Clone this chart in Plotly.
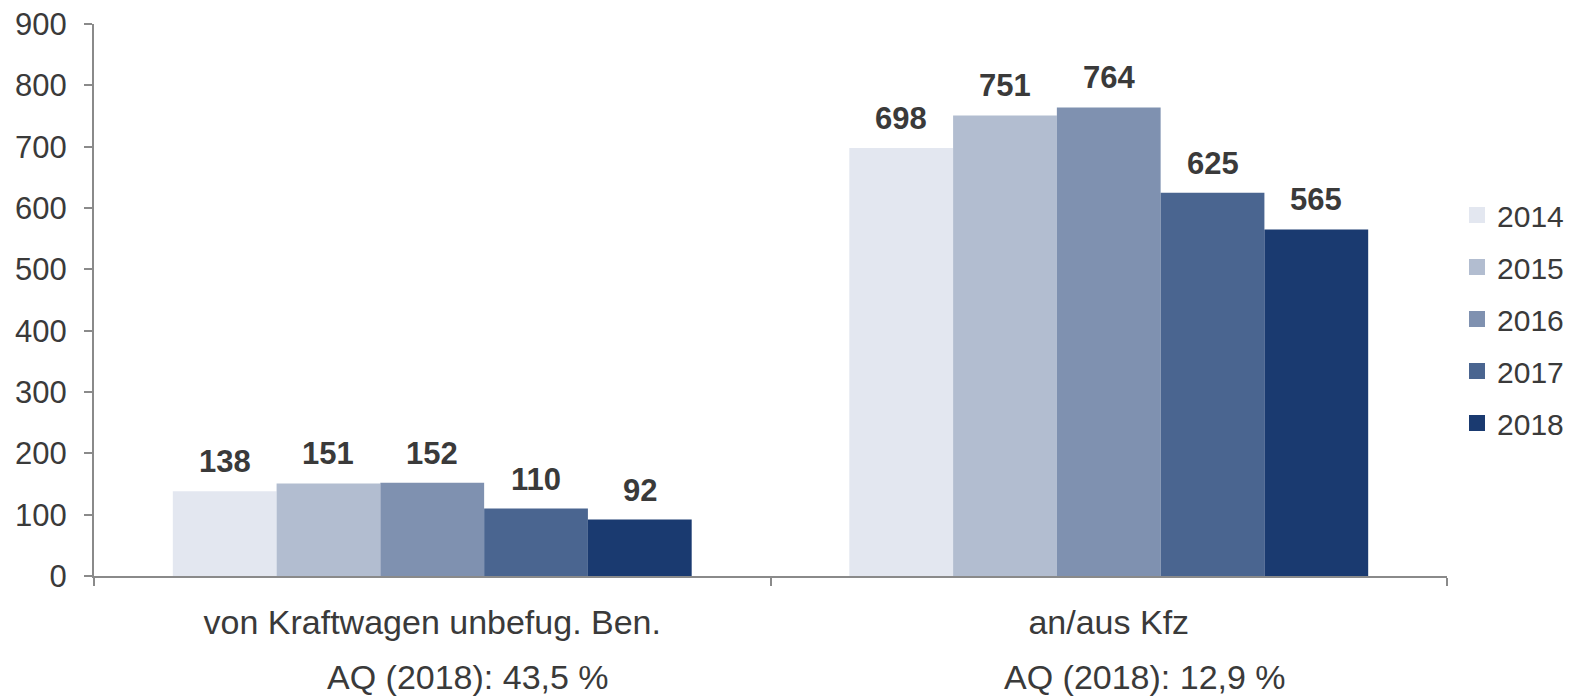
import plotly.graph_objects as go

# Data
categories = ['von Kraftwagen unbefug. Ben.', 'an/aus Kfz']
aq_labels = ['AQ (2018): 43,5 %', 'AQ (2018): 12,9 %']
years = ['2014', '2015', '2016', '2017', '2018']
values = {
    '2014': [138, 698],
    '2015': [151, 751],
    '2016': [152, 764],
    '2017': [110, 625],
    '2018': [92, 565],
}
y_ticks = [0, 100, 200, 300, 400, 500, 600, 700, 800, 900]

COLORS = ['#E3E7F0', '#B2BDD0', '#7F91B0', '#4A6590', '#1A3A70']
TEXT = '#3a3a3a'
AXIS = '#8a8a8a'
FONT = 'Liberation Sans, Arial, sans-serif'
BARGAP = 0.233

fig = go.Figure()

for i, year in enumerate(years):
    fig.add_trace(
        go.Bar(
            x=categories,
            y=values[year],
            name=year,
            showlegend=False,
            marker_color=COLORS[i],
            marker_line_width=0,
        )
    )

# legend entries with larger square swatches
for i, year in enumerate(years):
    fig.add_trace(
        go.Scatter(
            x=[None], y=[None],
            mode='markers',
            name=year,
            legendgroup=year,
            marker=dict(symbol='square', size=16, color=COLORS[i]),
        )
    )

# value labels above the bars
w = (1 - BARGAP) / len(years)
annotations = []
for i, year in enumerate(years):
    for c, v in enumerate(values[year]):
        annotations.append(dict(
            x=c + (i - (len(years) - 1) / 2) * w, y=v,
            xref='x', yref='y',
            text=f'<b>{v}</b>', showarrow=False,
            yanchor='bottom', yshift=10,
            font=dict(size=31, color=TEXT, family=FONT),
        ))

# second line under the category names
for c, txt in enumerate(aq_labels):
    annotations.append(dict(
        x=c, y=-101 / 552, xref='x', yref='paper',
        text=txt, showarrow=False, xshift=36,
        yanchor='middle',
        font=dict(size=34, color=TEXT, family=FONT),
    ))

# the page body adds an 8px offset, so margins are reduced by 8 on left/top
fig.update_layout(
    width=1573,
    height=697,
    barmode='group',
    bargap=BARGAP,
    bargroupgap=0,
    paper_bgcolor='white',
    plot_bgcolor='white',
    font=dict(family=FONT, color=TEXT, size=30),
    margin=dict(l=86, r=134, t=16, b=129, autoexpand=False),
    annotations=annotations,
    legend=dict(
        x=1.0074, y=0.4656, xanchor='left', yanchor='middle',
        font=dict(size=30, color=TEXT),
        tracegroupgap=10,
        traceorder='grouped',
        itemsizing='trace',
        itemclick=False,
    ),
)

fig.update_yaxes(
    range=[0, 900],
    tickvals=y_ticks,
    showgrid=False,
    showline=True, linecolor=AXIS, linewidth=2,
    ticks='outside', ticklen=8, tickwidth=2, tickcolor=AXIS,
    ticklabelstandoff=11,
    ticklabeloverflow='allow',
    tickfont=dict(size=31, color=TEXT),
    zeroline=False,
    automargin=False,
)
fig.update_xaxes(
    type='category',
    range=[-0.5, 1.5],
    tickson='boundaries',
    showgrid=False,
    showline=True, linecolor=AXIS, linewidth=2,
    ticks='outside', ticklen=8, tickwidth=2, tickcolor=AXIS,
    ticklabelstandoff=15,
    ticklabeloverflow='allow',
    tickfont=dict(size=34, color=TEXT),
    automargin=False,
)

fig.write_html('out.html')
